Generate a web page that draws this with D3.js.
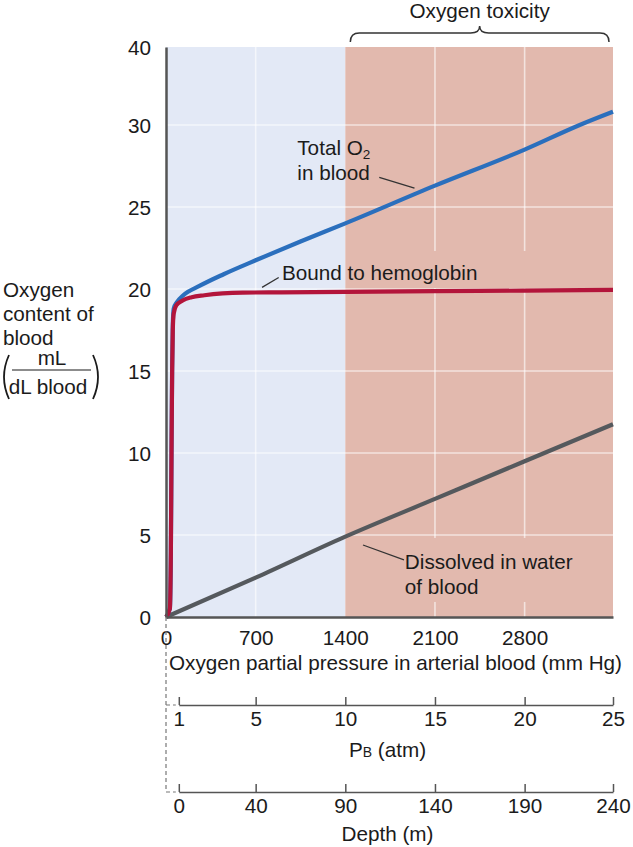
<!DOCTYPE html>
<html>
<head>
<meta charset="utf-8">
<script src="https://cdn.jsdelivr.net/npm/d3@7"></script>
<style>
  html, body { margin: 0; padding: 0; background: #fff; }
  svg { display: block; font-family: "Liberation Sans", Arial, Helvetica, sans-serif; }
  text { fill: #1b1b1b; }
</style>
</head>
<body>
<div id="chart"></div>
<script>
// arterial PO2 (mm Hg) ticks and O2 content ticks (mL/dL blood)
const po2Ticks = [0, 700, 1400, 2100, 2800];
const contentTicks = [0, 5, 10, 15, 20, 25, 30, 40];
const po2Max = 3490;
const toxicStart = 1400;

// secondary scales under the x axis, placed at the matching PO2
const pbTicks = [1, 5, 10, 15, 20, 25];
const pbAsPo2 = [100, 700, 1400, 2100, 2800, 3490];
const depthTicks = [0, 40, 90, 140, 190, 240];

// [PO2 mm Hg, mL O2 / dL blood]
const totalO2 = [
  [0, 0], [30, 0.5], [38, 4], [43, 10], [48, 15.2], [53, 17.8], [60, 18.8],
  [86, 19.2], [133, 19.6], [265, 20.2], [450, 20.9], [700, 21.75], [1050, 22.9],
  [1400, 24.0], [2100, 26.3], [2800, 28.5], [3230, 30], [3490, 31.7]
];
const boundHb = [
  [0, 0], [30, 0.5], [38, 4], [43, 10], [48, 15], [53, 17.5], [60, 18.5],
  [80, 19.0], [130, 19.3], [200, 19.5], [300, 19.62], [600, 19.78], [900, 19.8],
  [1400, 19.83], [2100, 19.87], [2800, 19.9], [3490, 19.95]
];
const dissolved = [
  [0, 0], [700, 2.4], [1400, 4.9], [2100, 7.2], [2800, 9.5], [3490, 11.75]
];

const annotations = [
  { lines: ['Total O', 'in blood'], sub: '2', at: [1025, 28.2], leader: [[1665, 26.8], [1940, 26.15]], pad: [8, 6, 8, 6] },
  { lines: ['Bound to hemoglobin'], at: [905, 20.55], leader: [[750, 20.1], [880, 20.7]], pad: [10, 10, 50, 4] },
  { lines: ['Dissolved in water', 'of blood'], at: [1865, 2.93], leader: [[1538, 4.39], [1858, 3.48]], pad: [16, 12, 16, 4] }
];

const W = 633, H = 847;
const fs = 20.7;
const plot = { left: 166, right: 613, top: 47, bottom: 617 };

const svg = d3.select('#chart').append('svg').attr('width', W).attr('height', H);
const defs = svg.append('defs');

const x = d3.scaleLinear().domain([0, po2Max]).range([plot.left, plot.right]);
// upper part of the axis (30 -> 40) is compressed in the original
const y = d3.scaleLinear().domain([0, 30, 40]).range([plot.bottom, 125, plot.top]);

// background zones
svg.append('rect')
  .attr('x', x(0)).attr('y', plot.top)
  .attr('width', x(toxicStart) - x(0)).attr('height', plot.bottom - plot.top)
  .attr('fill', '#e3e9f6');
svg.append('rect')
  .attr('x', x(toxicStart)).attr('y', plot.top)
  .attr('width', x(po2Max) - x(toxicStart)).attr('height', plot.bottom - plot.top)
  .attr('fill', '#e2b9ae');

// grid, masked under the labels
const mask = defs.append('mask').attr('id', 'gridMask').attr('maskUnits', 'userSpaceOnUse')
  .attr('x', 0).attr('y', 0).attr('width', W).attr('height', H);
mask.append('rect').attr('width', W).attr('height', H).attr('fill', '#fff');

const grid = svg.append('g').attr('mask', 'url(#gridMask)')
  .attr('stroke', '#fff').attr('stroke-opacity', 0.6).attr('stroke-width', 1.6);
grid.selectAll('line.h')
  .data(contentTicks.filter((d) => d > 0 && d < 40))
  .join('line')
  .attr('x1', x(0)).attr('x2', x(po2Max))
  .attr('y1', (d) => y(d)).attr('y2', (d) => y(d));
grid.selectAll('line.v')
  .data(po2Ticks.filter((d) => d > 0 && d !== toxicStart))
  .join('line')
  .attr('x1', (d) => x(d)).attr('x2', (d) => x(d))
  .attr('y1', plot.top).attr('y2', plot.bottom);

// curves
const line = d3.line().x((d) => x(d[0])).y((d) => y(d[1])).curve(d3.curveMonotoneX);
const series = [
  { data: dissolved, color: '#55595d' },
  { data: totalO2, color: '#2b6fbd' },
  { data: boundHb, color: '#b3153b' }
];
svg.append('g')
  .selectAll('path')
  .data(series)
  .join('path')
  .attr('fill', 'none')
  .attr('stroke', (d) => d.color)
  .attr('stroke-width', 4.2)
  .attr('d', (d) => line(d.data));

// annotations
const ann = svg.append('g').attr('font-size', fs);
for (const a of annotations) {
  const t = ann.append('text').attr('x', x(a.at[0])).attr('y', y(a.at[1]));
  a.lines.forEach((ln, i) => {
    t.append('tspan').attr('x', x(a.at[0])).attr('dy', i === 0 ? 0 : 25).text(ln);
    if (i === 0 && a.sub) {
      t.append('tspan').attr('font-size', 13.5).attr('dy', 4).text(a.sub);
      t.append('tspan').attr('font-size', 1).attr('dy', -4).text(' ');
    }
  });
  const bb = t.node().getBBox();
  mask.append('rect')
    .attr('x', bb.x - a.pad[0]).attr('y', bb.y - a.pad[1])
    .attr('width', bb.width + a.pad[0] + a.pad[2]).attr('height', bb.height + a.pad[1] + a.pad[3])
    .attr('fill', '#000');
  ann.append('line')
    .attr('x1', x(a.leader[0][0])).attr('y1', y(a.leader[0][1]))
    .attr('x2', x(a.leader[1][0])).attr('y2', y(a.leader[1][1]))
    .attr('stroke', '#333').attr('stroke-width', 1.3);
}

// main axes
const styleAxis = (g, w) => {
  g.attr('font-family', null).attr('font-size', fs).attr('color', '#1b1b1b');
  g.select('.domain').attr('stroke', '#555').attr('stroke-width', w);
};

svg.append('g')
  .attr('transform', `translate(0,${plot.bottom})`)
  .call(d3.axisBottom(x).tickValues(po2Ticks).tickSize(0).tickPadding(13).tickFormat(d3.format('d')))
  .call((g) => styleAxis(g, 2.5));

svg.append('g')
  .attr('transform', `translate(${plot.left},0)`)
  .call(d3.axisLeft(y).tickValues(contentTicks).tickSize(0).tickPadding(15))
  .call((g) => styleAxis(g, 2.5))
  .call((g) => g.selectAll('.tick text').attr('dy', '0.36em'));

svg.append('text')
  .attr('x', x(0) + 3).attr('y', 670)
  .attr('font-size', fs)
  .text('Oxygen partial pressure in arterial blood (mm Hg)');

// atmospheres and depth
const pb = d3.scaleLinear().domain(pbTicks).range(pbAsPo2.map(x));
const depth = d3.scaleLinear().domain(depthTicks).range(pbAsPo2.map(x));
const pbY = 705, depthY = 792;

for (const [scale, ticks, yy] of [[pb, pbTicks, pbY], [depth, depthTicks, depthY]]) {
  svg.append('g')
    .attr('transform', `translate(0,${yy})`)
    .call(d3.axisBottom(scale).tickValues(ticks).tickSizeInner(-8).tickSizeOuter(0).tickPadding(6))
    .call((g) => styleAxis(g, 1.5))
    .call((g) => g.selectAll('.tick line').attr('stroke', '#555').attr('stroke-width', 1.5));
}

const mid = (x(0) + x(po2Max)) / 2;
const pbLabel = svg.append('text').attr('x', mid - 2).attr('y', 757).attr('text-anchor', 'middle').attr('font-size', fs);
pbLabel.append('tspan').text('P');
pbLabel.append('tspan').attr('font-size', 14).text('B');
pbLabel.append('tspan').text(' (atm)');

svg.append('text').attr('x', mid - 2).attr('y', 841).attr('text-anchor', 'middle')
  .attr('font-size', fs).text('Depth (m)');

// dashed connector from the origin to the lower scales
const x0 = x(0);
svg.append('path')
  .attr('d', `M${x0},${plot.bottom}V${depthY}H${pb(1) - 3}M${x0},${pbY}H${pb(1) - 3}`)
  .attr('fill', 'none').attr('stroke', '#777').attr('stroke-width', 1.2)
  .attr('stroke-dasharray', '4,3');

// brace over the toxic zone
const bl = x(toxicStart) + 5, br = x(po2Max) - 4, bm = (bl + br) / 2;
const yEnd = 42, yFlat = 33, yPeak = 26, r = 9;
svg.append('path')
  .attr('d', `M${bl},${yEnd}Q${bl},${yFlat} ${bl + r},${yFlat}H${bm - r}Q${bm},${yFlat} ${bm},${yPeak}` +
    `Q${bm},${yFlat} ${bm + r},${yFlat}H${br - r}Q${br},${yFlat} ${br},${yEnd}`)
  .attr('fill', 'none').attr('stroke', '#333').attr('stroke-width', 1.5);
svg.append('text').attr('x', bm).attr('y', 18).attr('text-anchor', 'middle')
  .attr('font-size', fs).text('Oxygen toxicity');

// y axis title
const yt = svg.append('g').attr('font-size', fs);
['Oxygen', 'content of', 'blood'].forEach((s, i) => {
  yt.append('text').attr('x', 3).attr('y', 297 + i * 24).text(s);
});
yt.append('text').attr('x', 52).attr('y', 365).attr('text-anchor', 'middle').text('mL');
yt.append('line').attr('x1', 12).attr('x2', 91).attr('y1', 370).attr('y2', 370)
  .attr('stroke', '#1b1b1b').attr('stroke-width', 1.2);
yt.append('text').attr('x', 48).attr('y', 394).attr('text-anchor', 'middle').text('dL blood');
yt.append('path').attr('d', 'M9,355Q-1,377 9,399').attr('fill', 'none').attr('stroke', '#1b1b1b').attr('stroke-width', 1.8);
yt.append('path').attr('d', 'M93,355Q103,377 93,399').attr('fill', 'none').attr('stroke', '#1b1b1b').attr('stroke-width', 1.8);
</script>
</body>
</html>
